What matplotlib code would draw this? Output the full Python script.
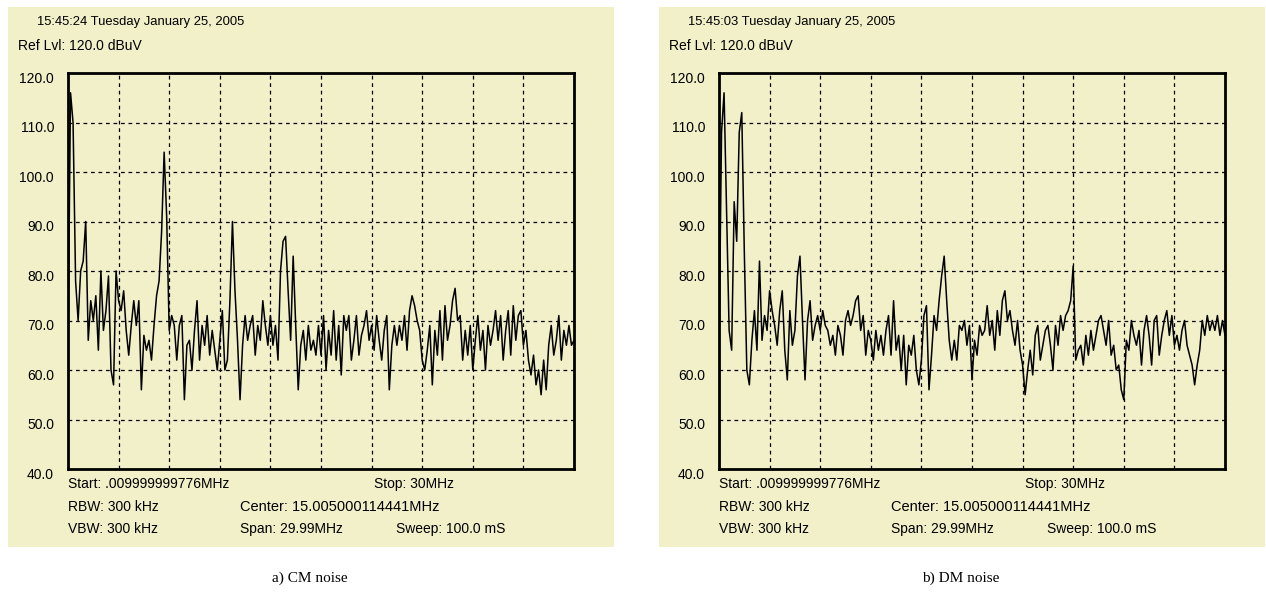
# Two spectrum analyzer screenshots: CM and DM noise, 0.01-30 MHz
import numpy as np
import matplotlib.pyplot as plt
import matplotlib.transforms as mtransforms
from matplotlib.patches import Rectangle

# Data (levels in dBuV, equally spaced sweep points)
f_start = 0.009999999776  # MHz
f_stop = 30.0             # MHz
y_ticks = [40, 50, 60, 70, 80, 90, 100, 110, 120]
y_tick_labels = ['40.0', '50.0', '60.0', '70.0', '80.0', '90.0', '100.0', '110.0', '120.0']

cm_level = [
    65, 116, 110, 78, 70, 80, 82, 90, 66, 74, 70, 75, 64, 80, 68, 72, 79, 60, 57, 80,
    74, 72, 76, 68, 63, 69, 74, 69, 74, 56, 67, 64, 66, 62, 69, 75, 78, 88, 104, 91,
    68, 71, 69, 62, 69, 71, 54, 65, 66, 60, 68, 74, 62, 69, 65, 71, 63, 68, 64, 60,
    66, 72, 60, 62, 74, 90, 76, 66, 54, 65, 71, 66, 69, 71, 63, 69, 66, 74, 69, 65,
    71, 65, 69, 62, 80, 86, 87, 76, 66, 83, 69, 56, 65, 68, 62, 69, 64, 66, 63, 69,
    63, 71, 60, 68, 63, 72, 62, 69, 59, 71, 68, 71, 62, 66, 71, 63, 67, 69, 72, 66,
    69, 64, 71, 66, 62, 68, 71, 56, 65, 69, 65, 69, 66, 71, 64, 72, 75, 73, 70, 68,
    62, 60, 64, 69, 57, 68, 63, 72, 62, 73, 66, 69, 74, 76.5, 70, 71, 62, 68, 63, 69,
    60, 66, 71, 64, 68, 60, 69, 65, 68, 72, 66, 71, 62, 68, 72, 63, 73, 66, 71, 72,
    65, 68, 62, 59, 63, 57, 60, 55, 62, 56, 65, 69, 63, 66, 71, 62, 68, 65, 69, 65, 66,
]

dm_level = [
    64, 108, 116, 92, 68, 64, 94, 86, 108, 112, 84, 60, 57, 66, 72, 64, 82, 66, 71, 68,
    76, 72, 69, 65, 72, 76, 64, 58, 72, 65, 68, 79, 83, 70, 58, 70, 74, 66, 69, 71,
    68, 72, 69, 68, 65, 67, 63, 69, 67, 63, 70, 72, 69, 71, 74, 75, 68, 71, 63, 68,
    66, 62, 68, 64, 67, 63, 68, 71, 63, 74, 64, 67, 60, 67, 57, 65, 63, 67, 60, 57,
    62, 71, 73, 56, 63, 71, 68, 74, 79, 83, 74, 66, 62, 66, 62, 69, 68, 70, 65, 69,
    58, 66, 63, 69, 67, 68, 73, 67, 70, 64, 72, 67, 74, 76, 70, 72, 68, 65, 70, 64,
    61, 55, 60, 64, 59, 67, 69, 62, 65, 68, 69, 65, 60, 69, 65, 71, 68, 71, 72, 74,
    81, 62, 64, 65, 61, 67, 63, 68, 64, 67, 70, 71, 68, 65, 70, 63, 65, 60, 61, 56,
    54, 66, 64, 70, 67, 65, 68, 61, 68, 71, 67, 61, 70, 71, 63, 67, 70, 72, 67, 71,
    65, 67, 64, 68, 70, 65, 63, 61, 57, 61, 64, 70, 67, 71, 68, 70, 68, 71, 67, 70, 67,
]

panels = [
    {'level': cm_level, 'time': '15:45:24 Tuesday January 25, 2005', 'caption': 'a) CM noise'},
    {'level': dm_level, 'time': '15:45:03 Tuesday January 25, 2005', 'caption': 'b) DM noise'},
]

W, H = 1266, 593
bg = '#f2f0c9'
ui_font = ['Liberation Sans Narrow', 'Liberation Sans', 'DejaVu Sans']
plt.rcParams['font.family'] = ui_font

fig = plt.figure(figsize=(W / 100, H / 100), dpi=100)


def fx(px):
    return px / W


def fy(py):
    return 1 - py / H


def put(px, py, s, **kw):
    fig.text(fx(px), fy(py), s, va='center', ha=kw.pop('ha', 'left'),
             fontsize=kw.pop('fontsize', 10), **kw)


for k, p in enumerate(panels):
    dx = 0 if k == 0 else 651
    # beige screen background
    fig.patches.append(Rectangle((fx(8 + dx), fy(547)), fx(606), 540 / H,
                                 transform=fig.transFigure, facecolor=bg,
                                 edgecolor='none', zorder=-10))

    ax = fig.add_axes([fx(68 + dx), fy(469), fx(506), 396 / H])
    ax.set_facecolor(bg)
    freq = np.linspace(f_start, f_stop, len(p['level']))
    ax.plot(freq, p['level'], color='black', linewidth=1.1)
    ax.set_xlim(f_start, f_stop)
    ax.set_ylim(40, 120)

    ax.set_xticks(np.linspace(f_start, f_stop, 11))
    ax.set_xticklabels([])
    ax.set_yticks(y_ticks)
    ax.set_yticklabels(y_tick_labels, fontsize=10)
    ax.tick_params(length=0, pad=11)
    offset = mtransforms.ScaledTranslation(1 / 72, -3 / 72, fig.dpi_scale_trans)
    for lab in ax.get_yticklabels():
        lab.set_transform(lab.get_transform() + offset)
    ax.grid(True, color='black', linestyle=(0, (3, 3)), linewidth=0.9)
    for s in ax.spines.values():
        s.set_linewidth(2)

    put(37 + dx, 22, p['time'], fontsize=9.4)
    put(18 + dx, 46, 'Ref Lvl: 120.0 dBuV')
    put(68 + dx, 484, 'Start: .009999999776MHz')
    put(374 + dx, 484, 'Stop: 30MHz')
    put(68 + dx, 507, 'RBW: 300 kHz')
    put(240 + dx, 507, 'Center: 15.005000114441MHz', fontsize=10.5)
    put(68 + dx, 529, 'VBW: 300 kHz')
    put(240 + dx, 529, 'Span: 29.99MHz')
    put(396 + dx, 529, 'Sweep: 100.0 mS')
    put(310 + dx, 578, p['caption'], ha='center', fontsize=11,
        family=['Liberation Serif', 'DejaVu Serif'])

fig.savefig('out.png', dpi=100, facecolor='white')
